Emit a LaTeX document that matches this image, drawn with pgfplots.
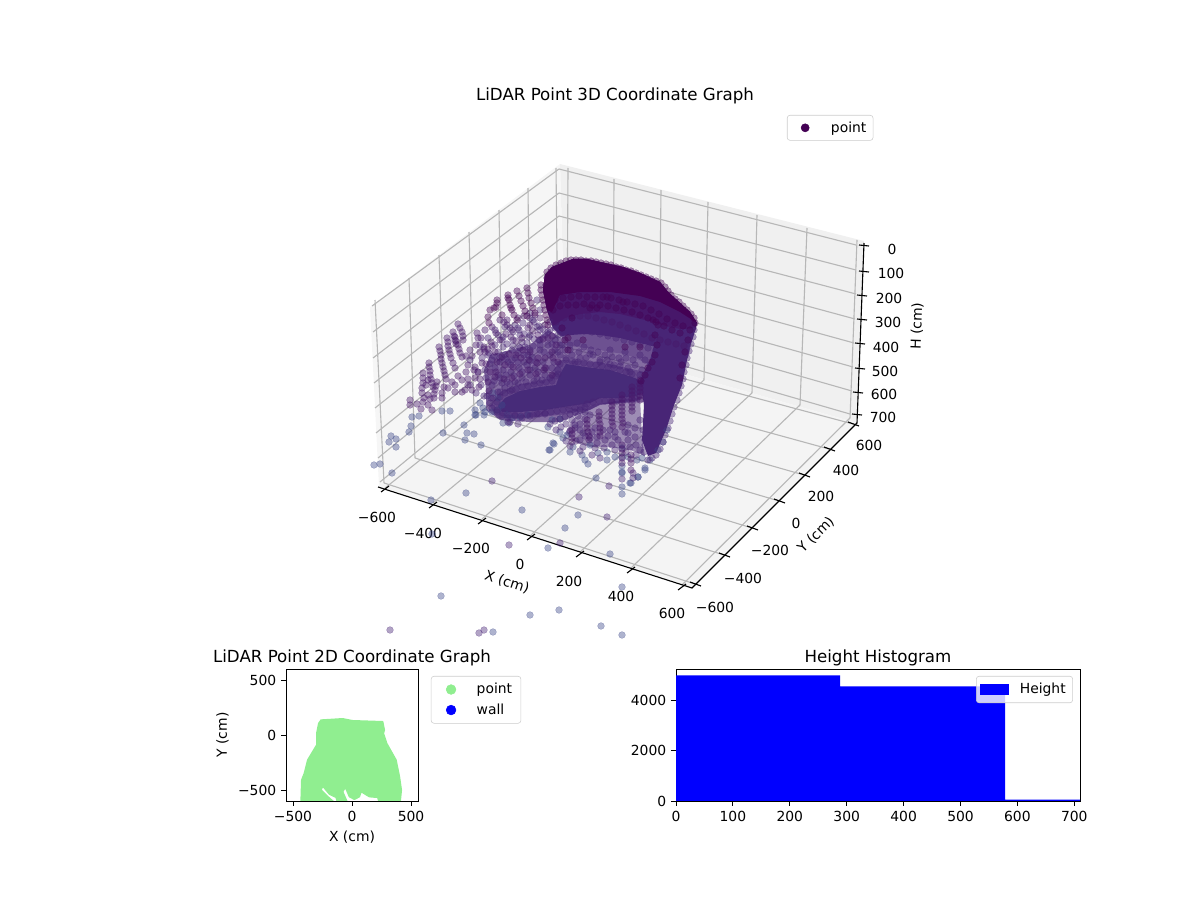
\documentclass[border=0pt]{standalone}
\usepackage{fontspec}
\setmainfont{DejaVu Sans}
\usepackage{pgfplots}
\pgfplotsset{compat=1.18}
\definecolor{cA}{HTML}{440154}
\definecolor{cB}{HTML}{47176A}
\definecolor{cC}{HTML}{482576}
\definecolor{cD}{HTML}{3F4A8A}
\definecolor{lgreen}{HTML}{90EE90}
\definecolor{gridc}{HTML}{B7B7B7}
\newcommand{\fa}{\fontsize{10bp}{12bp}\selectfont}
\newcommand{\fb}{\fontsize{12bp}{14bp}\selectfont}
\pgfplotsset{
  geo/.style={forget plot,draw=none},
  gridl/.style={forget plot,gridc,line width=0.8bp,mark=none,unbounded coords=jump},
  spine/.style={forget plot,black,line width=0.8bp,mark=none,unbounded coords=jump},
  pts/.style={forget plot,only marks,mark=*,mark size=2.45bp,
    mark options={draw=#1,fill=#1,line width=0.25bp,fill opacity=0.42,draw opacity=0.42}},
  key/.style={only marks,mark=*,mark size=3.3bp,color=#1,mark options={fill=#1,draw=#1,fill opacity=1,draw opacity=1,sharp corners}},
  every tick label/.append style={font=\fa},
  label style={font=\fa},
  sub/.style={scale only axis,anchor=south west,axis line style={line width=0.65bp},
    tick style={line width=0.65bp,black},major tick length=3.5bp,tick align=outside,
    xtick pos=bottom,ytick pos=left,
    title style={font=\fb,yshift=-0.1in},
    legend cell align=left,
    legend style={font=\fa,rounded corners=2bp,draw=black!20,fill=white,fill opacity=0.8,text opacity=1,draw opacity=1,inner ysep=3bp,row sep=1.7bp}},
}
\begin{document}
\begin{tikzpicture}[x=1in,y=1in]
\useasboundingbox (0,0) rectangle (12,9);
% ---------- 3D panel, read in picture pixels
\begin{axis}[at={(0in,2.64in)},anchor=south west,scale only axis,width=12in,height=6.36in,
  xmin=0,xmax=1200,ymin=0,ymax=636,y dir=reverse,hide axis,
  legend cell align=left,
  legend style={at={(0.6558,0.8192)},anchor=north west,font=\fa,rounded corners=2bp,draw=black!20,fill=white,fill opacity=0.8,text opacity=1,draw opacity=1,inner xsep=10bp,inner ysep=2.5bp}]
\addlegendimage{key=cA,mark size=2.9bp}
\addlegendentry{\hspace{0.19in}point\kern-0.1in\relax}
% panes
\addplot[geo,fill=black!6] coordinates {(560,164)(864,241)(857,423)(565,340)} -- cycle;
\addplot[geo,fill=black!3.5] coordinates {(370,307)(560,164)(565,340)(379,487)} -- cycle;
\addplot[geo,fill=black!4.5] coordinates {(379,487)(565,340)(857,423)(692,588)} -- cycle;
% grid on left pane
\addplot[gridl] coordinates {(375,300)(384,483) (0,nan) (409,278)(415,458) (0,nan) (439,255)(445,434) (0,nan) (469,232)(474,411) (0,nan) (499,210)(502,389) (0,nan) (528,188)(530,367) (0,nan) (556,168)(558,345)};
\addplot[gridl] coordinates {(372,306)(559,169) (0,nan) (373,332)(559,193) (0,nan) (373,358)(559,216) (0,nan) (374,383)(560,239) (0,nan) (375,408)(560,262) (0,nan) (376,433)(561,285) (0,nan) (378,458)(562,308) (0,nan) (380,482)(563,331)};
% grid on back pane
\addplot[gridl] coordinates {(568,168)(567,343) (0,nan) (614,179)(613,354) (0,nan) (661,190)(659,367) (0,nan) (708,202)(704,380) (0,nan) (757,215)(752,393) (0,nan) (807,228)(800,405) (0,nan) (857,240)(850,418)};
\addplot[gridl] coordinates {(559,169)(856,245) (0,nan) (559,193)(856,270) (0,nan) (559,216)(856,294) (0,nan) (560,239)(855,319) (0,nan) (560,262)(854,343) (0,nan) (561,285)(853,367) (0,nan) (562,308)(852,391) (0,nan) (563,331)(850,414)};
% grid on floor
\addplot[gridl] coordinates {(385,488)(567,343) (0,nan) (433,503)(613,354) (0,nan) (482,519)(659,367) (0,nan) (531,535)(704,380) (0,nan) (580,552)(752,393) (0,nan) (631,568)(800,405) (0,nan) (682,585)(850,418)};
\addplot[gridl] coordinates {(384,483)(695,584) (0,nan) (415,458)(724,555) (0,nan) (445,434)(752,528) (0,nan) (474,411)(779,501) (0,nan) (502,389)(804,475) (0,nan) (530,367)(829,449) (0,nan) (558,345)(853,424)};
% spines
\addplot[spine] coordinates {(378,487)(692,588)(857,423)(864,243)};
% ticks
\addplot[spine] coordinates {(381,492)(389,486) (0,nan) (429,508)(437,502) (0,nan) (478,524)(486,518) (0,nan) (527,540)(535,534) (0,nan) (576,557)(584,551) (0,nan) (627,573)(635,567) (0,nan) (678,590)(686,584)};
\addplot[spine] coordinates {(690,582)(701,586) (0,nan) (719,553)(730,557) (0,nan) (747,526)(758,530) (0,nan) (774,499)(785,503) (0,nan) (799,473)(810,477) (0,nan) (824,447)(835,451) (0,nan) (848,422)(859,426)};
\addplot[spine] coordinates {(859,245)(869,246) (0,nan) (859,271)(869,272) (0,nan) (857,295)(867,296) (0,nan) (857,319)(867,320) (0,nan) (855,343)(865,344) (0,nan) (855,368)(865,369) (0,nan) (853,392)(863,393) (0,nan) (852,414)(862,415)};
% tick labels and axis labels
\node[font=\fb] at (615,96) {LiDAR Point 3D Coordinate Graph};
\foreach \p/\q/\t in {377/517/−600,423/533/−400,471/548/−200,520/564/0,569/581/200,621/596/400,672/613/600,
   715/607/−600,743/578/−400,770/550/−200,796/523/0,821/496/200,846/470/400,869/445/600,
   892/249/0,891/273/100,889/298/200,888/322/300,886/347/400,885/371/500,884/394/600,883/417/700}
  {\edef\tmp{\noexpand\node[font=\noexpand\fa] at (axis cs:\p,\q) {\t};}\tmp}
\node[font=\fa,rotate=-18] at (507,582) {X (cm)};
\node[font=\fa,rotate=45] at (816,535) {Y (cm)};
\node[font=\fa,rotate=88] at (917,326) {H (cm)};
% translucent mass under the points
\addplot[geo,fill=cC,opacity=0.65] coordinates {(490,355)(510,350)(530,345)(548,330)(565,340)(600,345)(640,352)(660,362)(655,378)(640,400)(600,405)(585,412)(560,422)(530,422)(500,420)(486,410)(486,390)(484,370)} -- cycle;
\addplot[geo,fill=cC,opacity=0.5] coordinates {(592,405)(640,397)(642,440)(645,456)(630,450)(610,447)(590,447)(577,443)(565,434)(572,420)} -- cycle;
% dome, dark to pale
\addplot[geo,fill=cC!80!white] coordinates {(545,275)(552,267)(573,259)(587,259)(600,262)(623,267)(640,273)(660,282)(668,292)(690,312)(697,323)(692,340)(688,358)(655,368)(640,360)(625,354)(610,352)(600,350)(585,348)(570,346)(565,345)(562,338)(553,328)(547,310)(543,290)} -- cycle;
\addplot[geo,fill=cC] coordinates {(545,275)(552,267)(573,259)(587,259)(600,262)(623,267)(640,273)(660,282)(668,292)(690,312)(697,323)(693,338)(688,350)(660,348)(640,343)(620,338)(600,335)(585,334)(570,335)(562,336)(553,328)(547,310)(543,290)} -- cycle;
\addplot[geo,fill=cB] coordinates {(545,275)(552,267)(573,259)(587,259)(600,262)(623,267)(640,273)(660,282)(668,292)(690,312)(697,323)(695,332)(670,327)(645,320)(620,314)(600,312)(580,314)(565,318)(553,326)(547,310)(543,290)} -- cycle;
\addplot[geo,fill=cA] coordinates {(545,275)(552,267)(573,259)(587,259)(600,262)(623,267)(640,273)(660,282)(668,292)(690,312)(697,323)(680,312)(660,302)(640,296)(610,292)(580,292)(560,295)(552,312)(547,310)(543,290)} -- cycle;
% floor blob and right wall
\addplot[geo,fill=cC,opacity=0.5] coordinates {(560,360)(600,362)(645,372)(655,385)(645,402)(600,404)(590,410)(560,415)(520,418)(497,418)(490,406)(500,392)(520,384)(545,380)(552,372)} -- cycle;
\addplot[geo,fill=cC!85!cD] coordinates {(566,364)(585,367)(610,370)(635,378)(648,385)(640,395)(620,398)(600,398)(590,403)(570,406)(545,410)(520,412)(502,412)(498,406)(505,398)(520,391)(540,387)(556,385)(560,374)} -- cycle;
\addplot[geo,fill=cC] coordinates {(658,332)(695,328)(690,345)(682,385)(674,405)(666,430)(656,453)(648,456)(642,440)(644,405)(640,380)(650,360)} -- cycle;
% points: pale
\addplot[pts=cD] coordinates {(392,473)(466,493)(431,500)(522,510)(596,478)(578,515)(565,528)(548,548)(610,554)(432,534)(622,587)(441,596)(559,610)(530,615)(601,626)(493,632)(466,637)(622,635)(622,494)(622,487)(622,472)(631,483)(638,477)(645,470)(374,465)(380,464)(389,442)(391,436)(396,439)(396,447)(409,432)(411,426)(412,417)(419,416)(443,433)(464,425)(467,433)(474,434)(465,440)(481,445)(550,450)(554,444)(442,411)(450,411)(475,410)(484,415)(503,423)(509,423)(476,415)
(549,450)(553,443)(560,432)(548,427)(552,420)(560,419)(570,452)(563,438)(567,435)(573,447)(582,455)(585,460)(588,464)(590,445)(598,453)(607,452)(607,460)(615,457)(622,448)(622,457)(622,466)(622,473)(628,457)(638,477)(630,483)(637,460)(645,468)(642,458)(650,460)(658,450)(663,442)(667,430)
(480,403)(492,412)(498,410)(507,415)(512,418)(520,417)(528,415)(498,398)(493,393)(502,405)(483,408)(485,412)(475,415)};
% points: middle
\addplot[pts=cC] coordinates {(492,481)(609,486)(579,497)(607,517)(560,543)(509,545)(390,630)(484,630)(479,633)(622,479)(633,478)(633,473)
(505,327)(510,328)(503,337)(513,340)(520,335)(523,323)(530,313)(537,300)(540,310)(533,320)(537,327)(527,343)(503,347)(498,352)(505,355)(512,350)(520,348)(530,350)(540,340)(545,335)(550,330)(555,340)(548,345)(540,350)(532,357)(524,355)(515,358)(508,362)(500,362)(492,360)(488,355)(482,358)
(495,368)(503,370)(511,372)(519,368)(527,365)(535,368)(543,362)(550,355)(555,350)(560,345)(560,355)(552,368)(545,375)(537,378)(530,375)(522,378)(515,382)(507,382)(500,378)(492,385)(498,392)(505,388)(550,322)(555,328)(558,335)(540,330)(530,335)(522,342)(513,332)(518,328)
(585,407)(580,410)(575,412)(570,414)(565,417)(560,419)(555,421)(550,424)(585,412)(578,416)(572,420)(566,424)(561,427)(556,430)(590,415)(585,419)(580,424)(575,428)(570,431)
(492,408)(497,412)(502,416)(508,418)(515,415)(522,418)(530,416)(537,414)(545,414)(490,403)(493,398)(500,392)(487,396)(510,422)(518,424)(508,422)(512,390)
(600,360)(610,364)(590,354)(580,358)(570,350)(620,366)(630,372)(640,375)(610,350)(625,352)(640,355)(655,360)
(565,350)(572,355)(579,352)(586,358)(593,355)(600,362)(607,360)(614,365)(621,362)(628,368)(635,365)(642,370)(570,345)(577,343)(584,347)(591,350)(598,352)(605,355)(612,357)(619,358)(626,358)(633,360)(645,360)(650,365)(562,345)(558,352)(566,358)(575,362)
(580,440)(590,438)(597,443)(605,440)(615,437)(628,440)(636,445)(645,445)(652,440)(610,430)(595,428)(583,433)(625,432)(640,420)(648,425)(655,420)(650,405)(660,410)(670,400)(675,390)
(575,425)(580,430)(585,436)(592,432)(597,437)(603,430)(608,436)(615,432)(618,440)(628,425)(628,433)(635,428)(635,437)(643,430)(645,440)(650,433)(650,448)(640,450)(630,447)(612,445)(604,448)(595,448)(583,447)(576,441)(566,441)(570,446)(580,451)(592,455)(600,458)(615,450)(626,452)(636,455)(644,452)(654,445)
(480,345)(484,349)(489,353)(494,356)(500,358)(506,359)(512,360)(518,362)(524,362)(530,361)(495,330)(498,335)(502,340)(507,344)(513,346)(519,347)(525,347)(515,325)(519,330)(524,334)(529,337)(534,339)(539,340)(530,318)(534,322)(539,326)(543,329)(548,332)
(470,360)(478,372)(486,378)(494,381)(502,383)(510,384)(518,383)(526,382)(534,381)(542,380)(550,378)(558,374)(470,385)(476,393)(484,396)(491,398)(498,375)(506,375)(514,376)(522,372)(530,370)(538,372)(546,368)(554,362)(485,370)(490,364)(481,385)(511,365)(536,362)(544,352)(552,344)(528,355)(518,353)(495,345)(488,338)(540,345)(533,346)
(497,402)(500,397)(505,393)(510,391)(516,389)(522,387)(528,386)(534,384)(540,383)(546,382)(552,381)(556,376)(558,370)(560,364)(566,360)(572,361)(578,362)(584,363)(590,364)(596,365)(602,366)(608,367)(614,368)(620,370)(626,372)(632,374)
(497,410)(503,413)(509,415)(515,416)(521,416)(527,415)(533,415)(539,414)(545,413)(551,412)(557,411)(563,410)(569,409)(575,408)(581,407)(587,404)(593,402)(599,401)(605,401)(611,401)(617,401)(623,400)(629,399)(635,398)
(694,330)(693,337)(691,344)(689,351)(687,358)(686,365)(684,372)(683,379)(681,386)(679,393)(677,400)(674,407)(672,414)(670,421)(668,428)(665,435)(663,442)(660,449)(656,455)(652,458)(648,460)
(560,332)(568,330)(576,330)(584,331)(592,332)(600,334)(608,336)(616,338)(624,340)(632,342)(640,345)(648,348)(656,350)(664,352)(672,354)(680,356)};
% points: columns
\addplot[pts=cB] coordinates {(458,324)(460,328)(462,332)(463,336)(463,340)(453,332)(454,336)(455,340)(456,344)(447,338)(448,342)(448,346)(449,350)(450,354)(451,358)(453,363)(455,368)
(439,347)(440,351)(441,355)(441,359)(442,363)(443,367)(444,371)(445,375)(446,379)
(429,363)(429,367)(430,371)(430,375)(431,379)(432,383)(433,387)(435,390)(434,394)(436,386)(437,382)(428,380)(426,385)(423,373)(423,378)(423,383)(422,388)(422,393)(424,398)(428,395)(430,399)
(455,337)(456,341)(458,345)(459,349)(460,353)(462,357)
(477,333)(478,338)(491,342)(492,346)(484,347)(485,352)(468,365)(475,367)(478,372)(486,364)(462,380)(468,379)(468,385)(475,378)(444,387)(442,393)(442,398)(434,398)(455,392)(462,392)(465,390)(472,390)(479,387)(489,391)(495,377)(410,405)(410,400)(417,404)(421,409)(423,402)(428,405)(432,410)
(500,320)(504,322)(507,325)(492,327)(496,333)(500,340)(485,330)(481,338)(476,345)(470,350)(466,356)(472,356)(480,352)(506,334)(511,337)(516,341)(522,338)(528,328)(533,331)(538,335)(543,339)(548,338)(552,336)(556,345)(552,352)(545,358)(538,358)(530,352)(523,350)(516,355)(509,354)(502,357)(495,352)(488,349)(482,363)(490,372)(497,362)(505,365)(513,367)(521,358)(529,360)(537,363)(545,368)(553,358)(558,362)(552,375)(544,370)(536,374)(528,370)(520,374)(512,378)(504,379)(496,372)(488,382)(480,379)(474,370)(466,372)(458,376)(452,382)(448,388)(455,385)(512,330)(507,320)(518,318)(524,316)(530,325)(535,315)(540,318)(545,325)
(572,430)(572,434)(572,438)(572,442)(587,420)(587,424)(587,428)(588,432)(589,436)(589,440)
(599,412)(599,416)(599,420)(600,424)(600,428)(600,432)(600,436)
(612,402)(612,406)(612,410)(612,414)(612,418)(612,422)(613,426)
(622,395)(622,399)(622,403)(622,407)(622,411)(622,415)(622,419)(623,423)(622,427)(622,445)(622,449)(622,453)(622,458)(622,463)
(632,387)(632,391)(632,395)(632,399)(632,403)(632,407)(632,411)
(640,380)(640,384)(640,388)(640,392)(640,396)(640,400)(631,455)(631,459)(631,463)(631,470)
(556,322)(564,318)(572,316)(580,316)(588,316)(596,318)(604,320)(612,322)(620,325)(628,328)(636,331)(644,334)(652,338)(660,340)(668,342)(676,344)(684,346)};
% points: dark
\addplot[pts=cA] coordinates {(497,300)(496,307)(490,310)(488,317)(489,323)(502,315)(497,303)(494,308)
(508,295)(509,300)(510,305)(512,310)(514,315)(517,320)(508,298)(511,308)
(517,291)(519,296)(521,301)(523,306)(525,311)(527,316)
(527,288)(528,293)(529,298)(531,303)(533,308)(535,313)
(541,285)(541,290)(542,295)(543,300)(544,305)(545,310)(546,315)(547,320)(548,325)
(572,318)(568,338)(562,328)(565,340)(568,350)(583,340)(590,308)(597,308)(607,297)(623,302)(653,320)(625,347)(640,347)
(658,325)(655,335)(657,345)(655,355)(652,362)(648,368)(645,375)(641,381)
(690,330)(688,340)(685,352)(682,365)(680,378)
(547,272)(551,268)(556,265)(561,263)(566,261)(571,260)(576,260)(581,260)(586,261)(591,261)(596,262)(601,263)(606,264)(611,265)(616,267)(621,268)(626,270)(631,271)(636,273)(641,275)(646,277)(651,279)(656,281)(661,283)(665,287)(668,291)(671,295)(675,299)(679,302)(683,306)(687,310)(691,314)(694,318)(695,323)(547,278)(546,285)
(555,300)(563,298)(571,297)(579,296)(587,297)(595,297)(603,297)(611,298)(619,300)(627,302)(635,304)(643,306)(651,310)(659,314)(667,319)(675,323)(683,326)
(553,310)(560,306)(568,305)(576,305)(584,304)(592,305)(600,305)(608,306)(616,308)(624,310)(632,312)(640,315)(648,318)(656,322)(664,326)(672,330)(680,333)};
\end{axis}
% ---------- 2D scatter
\begin{axis}[sub,at={(2.86in,0.99in)},width=1.32in,height=1.32in,
  xmin=-559,xmax=559,ymin=-600,ymax=600,
  xtick={-500,0,500},xticklabels={−500,0,500},
  ytick={-500,0,500},yticklabels={−500,0,500},
  xlabel={X (cm)},ylabel={Y (cm)},
  title={LiDAR Point 2D Coordinate Graph},
  legend style={at={(1.098,0.947)},anchor=north west,inner xsep=10.8bp}]
\addlegendimage{key=lgreen,mark size=3.5bp}
\addlegendentry{\hspace{0.18in}point\kern-0.09in\relax}
\addlegendimage{key=blue,mark size=3.5bp}
\addlegendentry{\hspace{0.18in}wall\kern-0.09in\relax}
\addplot[forget plot,fill=lgreen,draw=lgreen,line width=1bp,line join=round] coordinates {(-262,136)(-79,148)(6,130)(260,121)(274,45)(266,15)(294,-76)(373,-227)(402,-379)(418,-500)(407,-620)(232,-620)(218,-567)(147,-561)(77,-515)(63,-561)(20,-585)(-22,-561)(-56,-476)(-79,-515)(-36,-620)(-121,-620)(-135,-567)(-192,-537)(-248,-464)(-262,-500)(-206,-560)(-141,-620)(-432,-620)(-426,-409)(-404,-349)(-375,-227)(-299,-91)(-299,15)(-282,106)} -- cycle;
\end{axis}
% ---------- histogram
\begin{axis}[sub,at={(6.76in,0.99in)},width=4.04in,height=1.32in,
  xmin=0,xmax=710,ymin=0,ymax=5240,
  xtick={0,100,200,300,400,500,600,700},xticklabels={0,100,200,300,400,500,600,700},
  ytick={0,2000,4000},yticklabels={0,2000,4000},
  title={Height Histogram},
  legend style={at={(0.9825,0.947)},anchor=north east,inner xsep=3bp}]
\addlegendimage{legend image code/.code={\fill[blue,opacity=1,sharp corners] (0in,-0.05in) rectangle (0.28in,0.05in);}}
\addlegendentry{\hspace{0.08in}Height}
\addplot[geo,fill=blue,const plot] coordinates {(0,0)(0,4990)(288.5,4555)(578.5,50)(710,50)(710,0)} -- cycle;
\end{axis}
\end{tikzpicture}
\end{document}
